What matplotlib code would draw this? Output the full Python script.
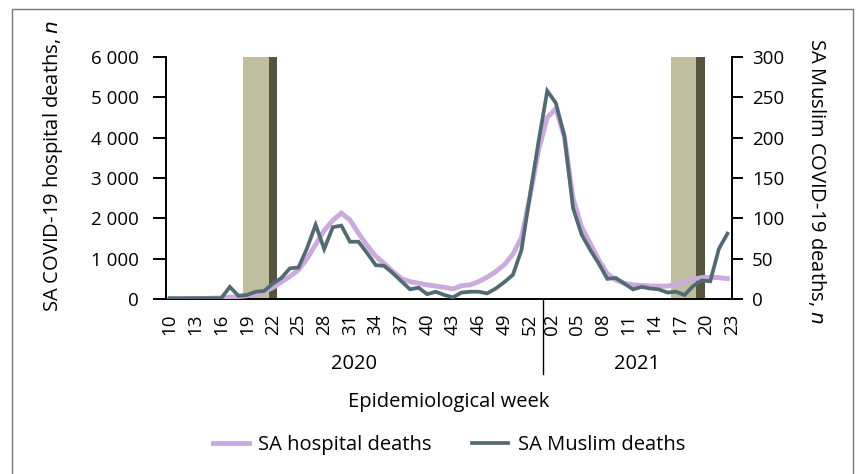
import matplotlib
matplotlib.use('Agg')
import matplotlib.pyplot as plt
from matplotlib.transforms import blended_transform_factory
from matplotlib.patches import Rectangle

plt.rcParams['font.family'] = ['Open Sans', 'DejaVu Sans']

# ---------------- data ----------------
# 66 consecutive epidemiological weeks: 2020 wk10-53 (44), 2021 wk2-23 (22)
hospital_deaths = [0, 2, 5, 10, 15, 20, 30, 45, 60, 80, 120, 180, 280,
                   420, 560, 720, 1000, 1350, 1700, 1950, 2130, 1960, 1630,
                   1330, 1060, 880, 680, 510, 430, 390, 350, 320, 290, 250,
                   330, 350, 430, 540, 680, 850, 1110, 1530, 2550, 3700,
                   4500, 4720, 4020, 2500, 1790, 1380, 970, 630, 470, 390,
                   350, 335, 325, 320, 320, 360, 420, 490, 530, 540, 530, 505]
muslim_deaths = [1, 1, 1, 1, 1, 1, 1, 15, 4, 5, 9, 10, 19, 26, 38, 39, 63,
                 92, 62, 89, 91, 71, 71, 57, 42, 41, 32, 22, 12, 14, 6, 9, 5,
                 2, 8, 9, 9, 7, 13, 21, 30, 61, 130, 196, 258, 243, 202, 113,
                 80, 61, 44, 25, 26, 19, 12, 15, 13, 12, 8, 9, 5, 16, 23, 22,
                 62, 81]
week_idx = list(range(len(hospital_deaths)))

labels_2020 = ['10', '13', '16', '19', '22', '25', '28', '31', '34', '37',
               '40', '43', '46', '49', '52']
pos_2020 = [0, 3, 6, 9, 12, 15, 18, 21, 24, 27, 30, 33, 36, 39, 42]
labels_2021 = ['02', '05', '08', '11', '14', '17', '20', '23']
pos_2021 = [44.5, 47.5, 50.5, 53.5, 56.5, 59.5, 62.5, 65.5]
years = ['2020', '2021']
year_centers = [21.5, 54.5]
year_boundary = 43.5

# Ramadan periods (light) and following week (dark), in week-index units
ramadan_light = [(8.55, 11.55), (58.4, 61.35)]
ramadan_dark = [(11.55, 12.55), (61.35, 62.35)]
bar_height = 6000

left_ticks = [0, 1000, 2000, 3000, 4000, 5000, 6000]
right_ticks = [0, 50, 100, 150, 200, 250, 300]

# ---------------- figure ----------------
W, H = 857, 474
fig = plt.figure(figsize=(W / 100, H / 100), dpi=100)


def fx(px):
    return px / W


def fy(py):
    return 1 - py / H


ax = fig.add_axes([fx(165.5), fy(299), fx(731.7) - fx(165.5), fy(57) - fy(299)])
ax2 = ax.twinx()

light_c = '#bfbf9f'
dark_c = '#55553f'
purple = '#cbaade'
slate = '#546a73'

for (a, b) in ramadan_light:
    ax.bar(a, bar_height, width=b - a, align='edge', color=light_c, zorder=1)
for (a, b) in ramadan_dark:
    ax.bar(a, bar_height, width=b - a, align='edge', color=dark_c, zorder=1)

l1, = ax.plot(week_idx, hospital_deaths, color=purple, lw=3.5, zorder=3,
              solid_joinstyle='miter', label='SA hospital deaths')
l2, = ax2.plot(week_idx, muslim_deaths, color=slate, lw=2.7, zorder=3,
               solid_joinstyle='miter', label='SA Muslim deaths')

ax.set_xlim(-0.5, 65.5)
ax.set_ylim(0, 6000)
ax2.set_ylim(0, 300)

spine_lw = 1.4
for s in ['top', 'right']:
    ax.spines[s].set_visible(False)
for s in ['top', 'left', 'bottom']:
    ax2.spines[s].set_visible(False)
ax.spines['left'].set_linewidth(spine_lw)
ax.spines['bottom'].set_linewidth(spine_lw)
ax2.spines['right'].set_linewidth(spine_lw)

ax.set_yticks(left_ticks)
ax.set_yticklabels([f"{v:,}".replace(',', ' ') for v in left_ticks])
ax2.set_yticks(right_ticks)
ax2.set_yticklabels([str(v) for v in right_ticks])

ax.tick_params(axis='y', direction='out', length=9.5, width=spine_lw, pad=9.5,
               labelsize=13.5, colors='black')
ax2.tick_params(axis='y', direction='out', length=8, width=spine_lw, pad=6.5,
                labelsize=13.5, colors='black')

ax.set_xticks(pos_2020 + pos_2021)
ax.set_xticklabels(labels_2020 + labels_2021, rotation=90)
ax.tick_params(axis='x', length=0, pad=10.5, labelsize=13.5)

trans = blended_transform_factory(ax.transData, ax.transAxes)
ax.plot([year_boundary, year_boundary], [0, -75 / 242], color='black', lw=1,
        transform=trans, clip_on=False)
for yr, xc in zip(years, year_centers):
    ax.text(xc, -65 / 242, yr, transform=trans, ha='center', va='center',
            fontsize=14.5)

fig.text(fx(448.6), fy(402), 'Epidemiological week', ha='center', va='center',
         fontsize=14.5)
fig.text(fx(53), fy(166), 'SA COVID-19 hospital deaths, $\\it{n}$', rotation=90,
         ha='center', va='center', fontsize=14.5)
fig.text(fx(817), fy(181), 'SA Muslim COVID-19 deaths, $\\it{n}$', rotation=270,
         ha='center', va='center', fontsize=14.5)

fig.legend(handles=[l1, l2], loc='center', bbox_to_anchor=(fx(449), fy(445)),
           ncol=2, frameon=False, fontsize=14.5, handlelength=1.8,
           handletextpad=0.45, columnspacing=2.0)

# figure border
fig.patches.append(Rectangle((fx(11.5), -0.05), fx(853) - fx(11.5), fy(9) + 0.05,
                             transform=fig.transFigure, fill=False,
                             edgecolor='#777777', lw=1.0))

fig.savefig('out.png', dpi=100)
